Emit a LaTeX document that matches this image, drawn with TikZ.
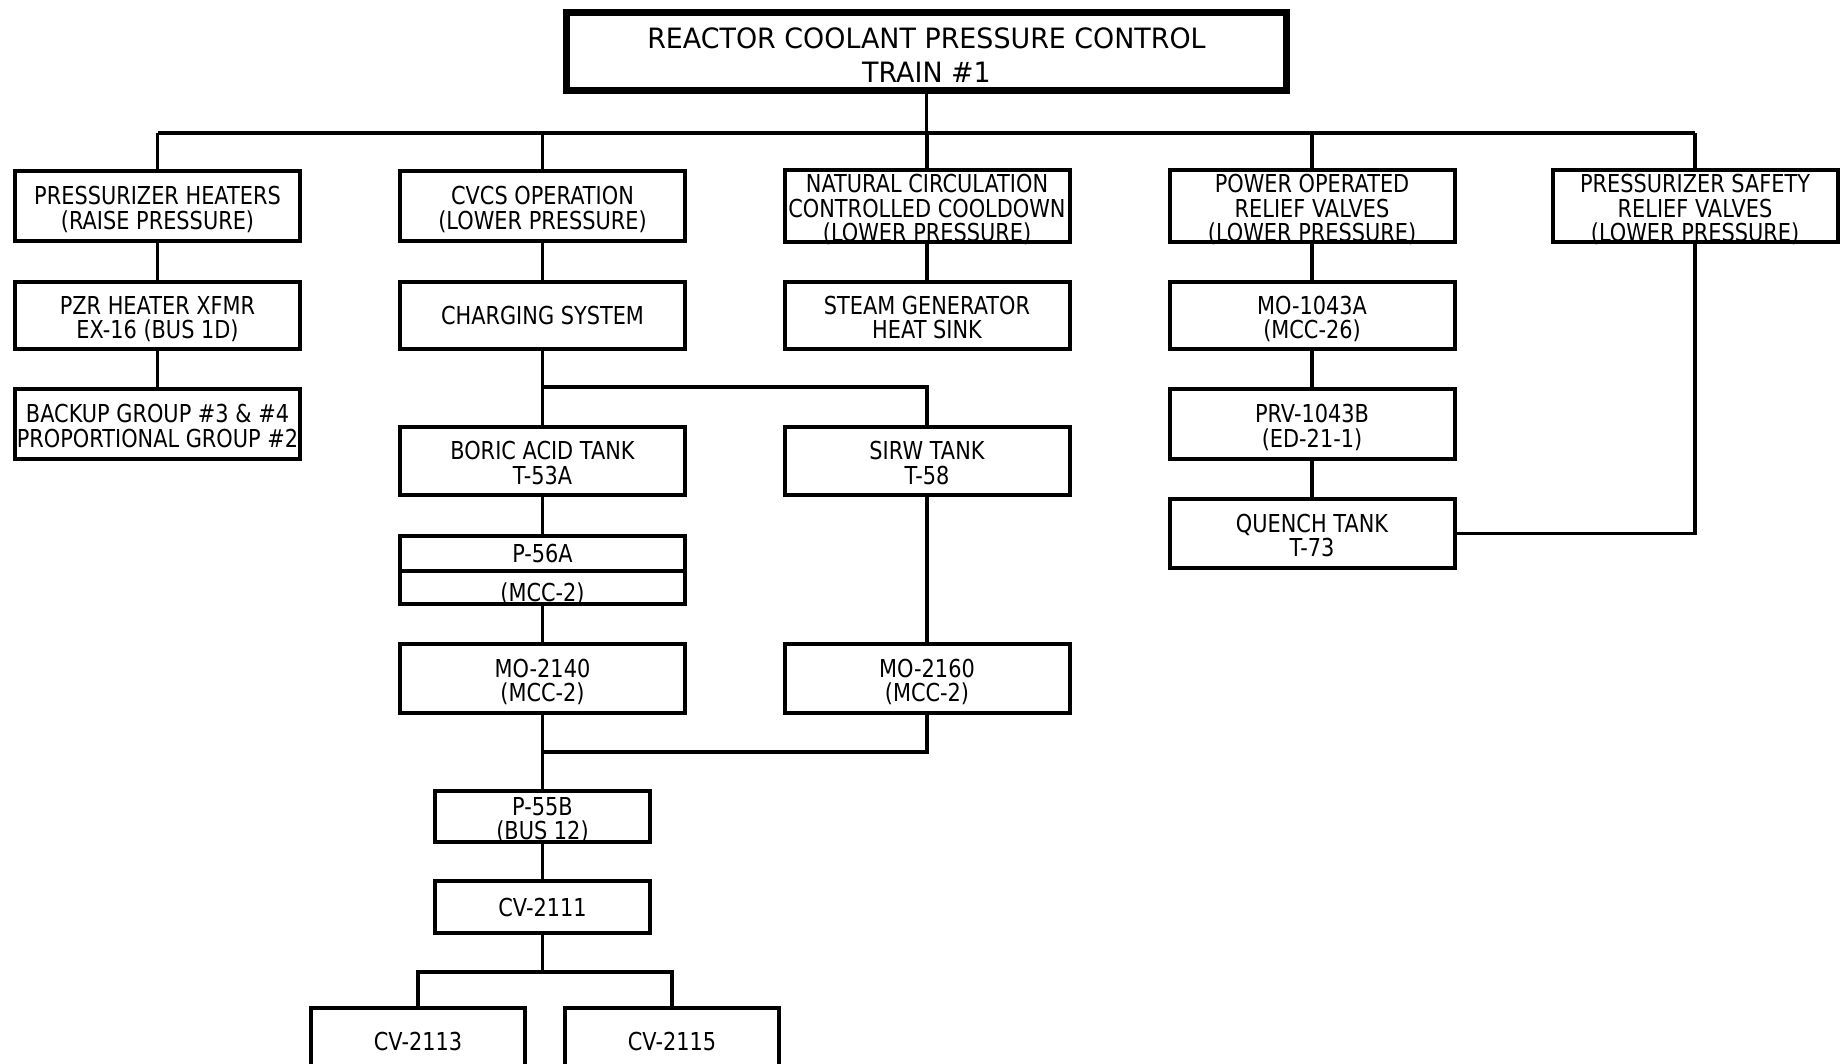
\documentclass[tikz,border=0pt]{standalone}
\usepackage{fontspec}
\newfontfamily\rowfont[FakeStretch=0.845]{DejaVu Sans}
\newfontfamily\topfont[FakeStretch=0.96]{DejaVu Sans}
\newcommand\strutA{\rule{0pt}{11pt}}
\newcommand\strutT{\rule{0pt}{13.7pt}}
\newcommand\strutM{\rule{0pt}{14pt}}
\begin{document}
\begin{tikzpicture}[x=0.5pt,y=-0.5pt,
  box/.style={draw, rectangle, line width=2pt, inner sep=0pt, align=center,
    font=\rowfont\fontsize{12.35}{12.4}\selectfont, text depth=0pt,
    minimum width=142.5pt, minimum height=35pt},
  topbox/.style={draw, rectangle, line width=3.5pt, inner sep=0pt, align=center,
    font=\topfont\fontsize{14}{17}\selectfont, text depth=0pt,
    minimum width=360pt, minimum height=39pt},
  link/.style={line width=1.6pt}]
\fill[white] (0,0) rectangle (1846,1064);
\useasboundingbox (0,0) rectangle (1846,1064);

% top
\node[topbox] (top) at (926.5,51.5) {\strutT REACTOR COOLANT PRESSURE CONTROL\\TRAIN \#1};

% row 1
\node[box] (b1) at (157.5,206) {\strutA PRESSURIZER HEATERS\\(RAISE PRESSURE)};
\node[box] (b2) at (542.5,206) {\strutA CVCS OPERATION\\(LOWER PRESSURE)};
\node[box] (b3) at (927,206) {\strutA NATURAL CIRCULATION\\CONTROLLED COOLDOWN\\(LOWER PRESSURE)};
\node[box] (b4) at (1312,206) {\strutA POWER OPERATED\\RELIEF VALVES\\(LOWER PRESSURE)};
\node[box] (b5) at (1695,206) {\strutA PRESSURIZER SAFETY\\RELIEF VALVES\\(LOWER PRESSURE)};

% row 2
\node[box, minimum height=33.5pt] (pzr) at (157.5,315.5) {\strutA PZR HEATER XFMR\\EX-16 (BUS 1D)};
\node[box, minimum height=33.5pt] (chg) at (542.5,315.5) {CHARGING SYSTEM};
\node[box, minimum height=33.5pt] (sg) at (927,315.5) {\strutA STEAM GENERATOR\\HEAT SINK};
\node[box, minimum height=33.5pt] (mo43) at (1312,315.5) {\strutA MO-1043A\\(MCC-26)};

% row 3
\node[box] (bkp) at (157.5,424) {\strutA BACKUP GROUP \#3 \& \#4\\PROPORTIONAL GROUP \#2};
\node[box] (prv) at (1312,424) {\strutA PRV-1043B\\(ED-21-1)};

% row 4
\node[box, minimum height=34pt] (bat) at (542.5,461) {\strutA BORIC ACID TANK\\T-53A};
\node[box, minimum height=34pt] (sirw) at (927,461) {\strutA SIRW TANK\\T-58};
\node[box, minimum height=34.5pt] (qt) at (1312,533.5) {\strutA QUENCH TANK\\T-73};

% P-56A split box
\node[box, minimum height=17.5pt] (p56) at (542.5,553.5) {P-56A};
\node[box, minimum height=16.5pt] (mcc) at (542.5,587.5) {\strutM(MCC-2)};

% MO valves
\node[box, minimum height=34.5pt] (mo40) at (542.5,678.5) {\strutA MO-2140\\(MCC-2)};
\node[box, minimum height=34.5pt] (mo60) at (927,678.5) {\strutA MO-2160\\(MCC-2)};

% pump and CVs
\node[box, minimum width=107.5pt, minimum height=25.5pt] (p55) at (542.5,816.5) {\strutA P-55B\\(BUS 12)};
\node[box, minimum width=107.5pt, minimum height=26pt] (cv11) at (542.5,907) {CV-2111};
\node[box, minimum width=107pt, minimum height=33pt] (cv13) at (418,1041) {CV-2113};
\node[box, minimum width=107pt, minimum height=33pt] (cv15) at (672,1041) {CV-2115};

% junction coordinates
\coordinate (bus) at (926.5,133);
\coordinate (busL) at (157.5,133);
\coordinate (busR) at (1695,133);
\coordinate (j1) at (542.5,387);
\coordinate (j2) at (542.5,752);
\coordinate (j3) at (542.5,972);

% connectors
\draw[link] (top.south) -- (bus);
\draw[link] (busL) -- (busR);
\foreach \n in {b1,b2,b3,b4,b5} \draw[link] (bus -| \n.north) -- (\n.north);
\draw[link] (b1) -- (pzr);
\draw[link] (pzr) -- (bkp);
\draw[link] (b2) -- (chg);
\draw[link] (chg) -- (bat);
\draw[link] (j1) -| (sirw.north);
\draw[link] (b3) -- (sg);
\draw[link] (b4) -- (mo43);
\draw[link] (mo43) -- (prv);
\draw[link] (prv) -- (qt);
\draw[link] (b5.south) |- (qt.east);
\draw[link] (bat) -- (p56);
\draw[link] (mcc) -- (mo40);
\draw[link] (sirw) -- (mo60);
\draw[link] (mo60.south) |- (j2);
\draw[link] (mo40) -- (p55);
\draw[link] (p55) -- (cv11);
\draw[link] (cv11.south) -- (j3);
\draw[link] (j3) -| (cv13.north);
\draw[link] (j3) -| (cv15.north);
\end{tikzpicture}
\end{document}
